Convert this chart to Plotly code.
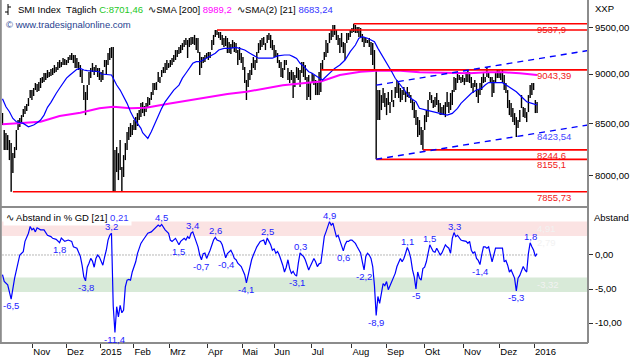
import math
import plotly.graph_objects as go

# ---------------- data ----------------
high = [8603, 8436, 8406, 8387, 8339, 8310, 8214, 8272, 8436, 8534,
        8554, 8583, 8643, 8673, 8693, 8754, 8835, 8835, 8856, 8907,
        8897, 8917, 8959, 8969, 9010, 9010, 9042, 9021, 9052, 9063,
        9094, 9073, 9126, 9147, 9126, 9168, 9158, 9147, 9179, 9200,
        9221, 9200, 9200, 9168, 9126, 9094, 9042, 8886, 8815, 8886,
        9021, 9063, 9115, 9073, 9094, 9063, 9063, 9021, 9042, 9147,
        9147, 9221, 9274, 9285, 9285, 8243, 8272, 8214, 8339, 8083,
        8195, 8310, 8416, 8465, 8504, 8485, 8534, 8563, 8603, 8633,
        8703, 8713, 8673, 8703, 8764, 8754, 8815, 8907, 8907, 8917,
        9021, 8969, 9042, 9073, 9115, 9147, 9115, 9147, 9168, 9200,
        9253, 9253, 9285, 9307, 9328, 9361, 9383, 9361, 9383, 9394,
        9394, 9416, 9383, 9383, 9232, 9179, 9179, 9200, 9221, 9232,
        9232, 9361, 9416, 9470, 9470, 9448, 9448, 9416, 9383, 9405,
        9383, 9339, 9318, 9361, 9339, 9328, 9253, 9285, 9221, 9179,
        9073, 8938, 9010, 9042, 9115, 9179, 9147, 9232, 9328, 9361,
        9383, 9394, 9328, 9416, 9437, 9416, 9361, 9307, 9253, 9221,
        9147, 9126, 9063, 9147, 9147, 9063, 9021, 9042, 9021, 8990,
        9073, 9063, 9042, 9126, 9126, 9094, 8969, 8990, 8917, 9010,
        8990, 8938, 8907, 9021, 9115, 9147, 9232, 9361, 9328, 9437,
        9470, 9525, 9525, 9470, 9416, 9383, 9437, 9339, 9328, 9437,
        9437, 9470, 9492, 9538, 9525, 9503, 9503, 9492, 9426, 9394,
        9383, 9361, 9383, 9339, 9328, 9253, 9043, 8835, 8835, 8784,
        8856, 8805, 8754, 8815, 8713, 8835, 8734, 8866, 8938, 8907,
        8856, 8835, 8866, 8815, 8866, 8815, 8784, 8734, 8713, 8633,
        8563, 8534, 8465, 8436, 8583, 8633, 8734, 8815, 8784, 8734,
        8764, 8805, 8734, 8703, 8663, 8683, 8713, 8815, 8713, 8805,
        8835, 8969, 8959, 9010, 8990, 8969, 8990, 8959, 9021, 9042,
        9021, 8969, 8907, 8938, 8907, 8835, 8907, 8969, 9010, 8969,
        9073, 9021, 8969, 8969, 8938, 9010, 9042, 9042, 9021, 9042,
        8990, 8907, 8835, 8734, 8703, 8653, 8603, 8563, 8534, 8633,
        8784, 8663, 8653, 8613, 8784, 8886, 8907, 8907, 8734, 8713]
low = [8485, 8243, 8243, 8243, 8148, 7856, 8027, 8167, 8243, 8436,
       8465, 8514, 8563, 8593, 8623, 8673, 8754, 8734, 8774, 8835,
       8815, 8825, 8856, 8907, 8917, 8938, 8959, 8969, 8979, 8990,
       9010, 9021, 9042, 9063, 9073, 9094, 9094, 9094, 9115, 9147,
       9147, 9115, 9063, 9063, 9042, 8969, 8907, 8734, 8583, 8734,
       8886, 8959, 9021, 8990, 9021, 8969, 8938, 8917, 8938, 9073,
       8990, 9094, 9147, 9168, 7860, 7860, 8036, 7962, 8055, 7860,
       7990, 8148, 8243, 8339, 8368, 8387, 8436, 8436, 8475, 8534,
       8563, 8603, 8573, 8613, 8663, 8683, 8734, 8784, 8835, 8835,
       8917, 8907, 8969, 9010, 9010, 9042, 9063, 9073, 9094, 9126,
       9147, 9179, 9210, 9221, 9253, 9285, 9307, 9168, 9285, 9307,
       9318, 9307, 9253, 9221, 8990, 9063, 9115, 9126, 9168, 9147,
       9168, 9253, 9307, 9394, 9416, 9383, 9361, 9307, 9285, 9296,
       9221, 9221, 9210, 9274, 9232, 9221, 9094, 9147, 9115, 9042,
       8907, 8734, 8866, 8938, 8990, 9063, 9042, 9115, 9221, 9253,
       9285, 9307, 9253, 9328, 9361, 9274, 9253, 9179, 9179, 9115,
       9063, 8969, 8959, 9042, 9094, 8938, 8907, 8938, 8754, 8866,
       8959, 8938, 8866, 9010, 8969, 8938, 8734, 8764, 8734, 8907,
       8886, 8784, 8784, 8784, 8815, 9042, 9147, 9179, 9221, 9328,
       9361, 9394, 9416, 9361, 9307, 9221, 9285, 9221, 9147, 9328,
       9361, 9394, 9437, 9448, 9437, 9437, 9394, 9383, 9339, 9285,
       9328, 9328, 9285, 9200, 9094, 9042, 8155, 8534, 8534, 8633,
       8703, 8663, 8583, 8683, 8603, 8713, 8663, 8754, 8805, 8754,
       8713, 8734, 8784, 8713, 8764, 8754, 8703, 8633, 8554, 8485,
       8368, 8387, 8291, 8245, 8436, 8514, 8563, 8734, 8703, 8653,
       8663, 8683, 8613, 8583, 8583, 8583, 8563, 8663, 8603, 8633,
       8683, 8815, 8835, 8907, 8938, 8907, 8917, 8886, 8917, 8917,
       8907, 8856, 8805, 8866, 8764, 8703, 8784, 8835, 8907, 8917,
       8969, 8959, 8917, 8764, 8805, 8907, 8959, 8959, 8938, 8907,
       8835, 8805, 8653, 8583, 8563, 8514, 8485, 8368, 8456, 8514,
       8653, 8563, 8554, 8514, 8613, 8754, 8784, 8835, 8603, 8603]

sma21_idx = [0, 2, 4, 6, 8, 12, 15, 18, 20, 22, 24, 26, 28, 29, 31, 33, 35, 37, 39, 41,
             43, 45, 47, 49, 54, 56, 57, 63, 64, 66, 68, 70, 72, 74, 76, 78, 80, 81, 84, 86,
             88, 90, 92, 94, 97, 99, 102, 104, 106, 108, 110, 112, 114, 116, 120, 123, 125, 128, 131, 135,
             137, 140, 143, 146, 148, 156, 159, 163, 166, 168, 170, 172, 174, 177, 179, 182, 185, 186, 189, 192,
             195, 198, 201, 204, 206, 208, 211, 213, 215, 217, 220, 223, 225, 227, 230, 233, 236, 239, 241, 245,
             249, 253, 257, 260, 263, 265, 268, 271, 274, 277, 279, 281, 289, 291, 294, 297, 300, 303, 306, 309]
sma21_val = [8746, 8666, 8616, 8550, 8517, 8501, 8468, 8485, 8507, 8534, 8583, 8660, 8710, 8745, 8800, 8853, 8905, 8957, 8990, 9024,
             9049, 9059, 9042, 9035, 9031, 9024, 9000, 8990, 8956, 8886, 8835, 8767, 8700, 8616, 8550, 8501, 8452, 8410, 8355, 8419,
             8501, 8583, 8650, 8716, 8784, 8835, 8886, 8957, 9008, 9059, 9112, 9129, 9129, 9147, 9183, 9219, 9253, 9271, 9271, 9282,
             9271, 9253, 9219, 9183, 9166, 9166, 9190, 9200, 9200, 9183, 9164, 9112, 9083, 9024, 9008, 8972, 8938, 8956, 9008, 9059,
             9094, 9147, 9236, 9307, 9380, 9398, 9380, 9361, 9343, 9271, 9183, 9094, 9024, 8956, 8886, 8818, 8751, 8717, 8650, 8633,
             8616, 8600, 8583, 8600, 8650, 8700, 8751, 8802, 8835, 8853, 8886, 8911, 8911, 8886, 8853, 8818, 8767, 8716, 8700, 8683]

sma200_idx = [0, 10, 22, 33, 45, 56, 64, 74, 83, 95, 106, 118, 130, 141, 153, 162, 172, 184, 195, 207,
              216, 230, 241, 260, 270, 280, 290, 299, 309]
sma200_val = [8492, 8501, 8517, 8574, 8606, 8650, 8666, 8650, 8656, 8693, 8726, 8760, 8794, 8817, 8851, 8883, 8903, 8922, 8990, 9024,
              9035, 9035, 9018, 9007, 9007, 9018, 9018, 9007, 8989]

osc_idx = [0, 1, 3, 5, 7, 9, 10, 12, 13, 15, 16, 17, 18, 19, 20, 22, 24, 26, 28, 29,
           31, 33, 34, 36, 38, 40, 41, 43, 45, 46, 47, 48, 49, 50, 51, 52, 53, 54, 55, 56,
           57, 58, 59, 60, 61, 62, 63, 64, 65, 66, 67, 68, 69, 70, 71, 72, 73, 74, 75, 76,
           77, 78, 79, 80, 81, 82, 84, 86, 88, 90, 91, 92, 94, 95, 96, 97, 98, 100, 101, 102,
           103, 105, 106, 107, 108, 109, 110, 111, 112, 113, 114, 115, 116, 117, 118, 119, 120, 122, 123, 124,
           126, 127, 128, 129, 130, 131, 132, 133, 134, 135, 136, 138, 139, 140, 141, 142, 143, 144, 145, 146,
           147, 149, 151, 152, 153, 154, 155, 156, 157, 158, 159, 160, 161, 162, 163, 164, 165, 166, 167, 168,
           169, 170, 171, 172, 173, 174, 175, 176, 177, 178, 179, 180, 181, 182, 183, 184, 185, 186, 187, 188,
           189, 190, 191, 192, 193, 194, 195, 196, 197, 198, 199, 200, 201, 202, 203, 204, 205, 206, 207, 208,
           209, 210, 211, 212, 213, 214, 215, 216, 217, 218, 219, 220, 221, 222, 223, 224, 225, 226, 227, 228,
           229, 230, 231, 232, 233, 234, 235, 236, 237, 238, 239, 240, 241, 242, 243, 244, 245, 246, 247, 248,
           249, 250, 251, 252, 253, 254, 255, 256, 257, 258, 259, 260, 261, 262, 263, 264, 265, 266, 268, 269,
           270, 271, 272, 273, 274, 275, 276, 277, 278, 279, 280, 281, 282, 283, 284, 285, 286, 288, 289, 290,
           291, 292, 293, 294, 295, 296, 297, 298, 299, 300, 301, 302, 303, 304, 305, 306, 307, 308, 309]
osc_val = [-2.9, -3.9, -4.4, -6.5, -3.4, -1.0, 0.0, 0.5, 2.0, 3.2, 4.2, 3.7, 3.9, 3.4, 4.0, 3.7, 3.7, 2.9, 2.7, 2.45,
           2.3, 1.8, 2.5, 2.0, 2.2, 2.0, 1.2, 1.0, -0.2, -1.5, -3.2, -3.8, -1.8, -1.2, -0.5, -0.9, -1.8, -0.5, 0.0, -0.3,
           -1.0, -1.5, -0.3, 0.7, 2.2, 2.9, 3.2, -7.5, -11.4, -7.6, -9.1, -7.4, -8.5, -8.1, -4.7, -3.7, -3.6, -3.7, -2.5, -1.7,
           -1.0, 0.2, 1.0, 1.7, 2.1, 2.45, 3.2, 3.4, 3.9, 4.4, 4.2, 4.5, 3.7, 3.4, 3.2, 2.2, 2.0, 2.45, 2.0, 1.5,
           2.0, 2.45, 2.2, 2.7, 2.4, 3.2, 3.4, 2.7, 1.7, 1.2, 0.0, -0.7, 0.2, 0.3, -0.5, 0.0, 0.7, 2.2, 2.6, 2.2,
           2.0, 1.5, 0.7, -0.4, 0.2, 0.5, 0.7, 0.2, -0.5, -0.7, -1.2, -1.7, -2.2, -2.9, -4.1, -2.9, -1.7, -0.7, 0.0, 0.7,
           1.2, 2.0, 2.2, 1.5, 2.5, 2.0, 1.5, 0.7, 0.9, 0.25, 0.5, 0.0, -0.7, -1.5, -2.5, -1.8, -0.7, -2.0, -2.7, -2.4,
           -2.9, -3.1, -1.2, 0.3, 0.0, -0.2, -0.7, -1.5, -2.2, -1.6, -1.0, -0.5, -1.0, -1.7, -1.3, -1.2, 0.7, 2.7, 3.4, 4.2,
           4.9, 4.4, 4.7, 3.7, 2.7, 2.9, 2.0, 1.2, 0.6, 1.5, 2.0, 2.0, 2.2, 2.2, 2.0, 1.7, 1.2, 0.8, 0.3, -1.0,
           -2.2, -0.2, 0.25, 0.0, -0.5, -1.7, -4.5, -8.9, -6.1, -7.1, -5.6, -4.2, -4.5, -3.9, -5.1, -4.5, -3.7, -3.2, -2.7, -1.7,
           -1.0, -0.5, -1.0, -0.5, 0.25, 1.1, 0.5, -0.5, -2.2, -3.2, -5.0, -2.5, -3.4, -3.7, -2.0, -1.8, -1.0, 0.25, 1.5, 1.0,
           0.5, 0.4, 1.0, 0.5, 0.0, 0.3, 1.0, 1.5, 1.2, 1.0, 0.25, 2.45, 3.3, 2.7, 2.9, 2.5, 2.2, 2.1, 2.0, 1.7,
           2.0, 0.7, 0.25, 0.5, -0.5, -0.8, -1.4, 0.0, 1.2, 1.2, 1.0, 1.2, 0.0, -1.0, 0.0, 1.0, 1.0, 1.0, 1.0, -1.0,
           -0.8, -1.5, -2.5, -2.2, -2.9, -3.4, -5.3, -3.4, -3.0, -2.2, -1.7, -2.2, -2.5, 0.25, 1.8, 1.2, 0.7, -0.2, 0.21]

# horizontal support / resistance levels (price, first bar)
levels = [9537.9, 9470.0, 9043.39, 8244.6, 8155.1, 7855.73]
level_start = [203, 124, 184, 243, 216, 6]
level_labels = ["9537,9", "", "9043,39", "8244,6", "8155,1", "7855,73"]

# trend channel (bar, price)
trend_up_x = [216, 339]
trend_up_y = [8885, 9249]
trend_lo_x = [216, 339]
trend_lo_y = [8156, 8487]
trend_lo_label = "8423,54"
trend_lo_value = 8423.54

# oscillator zones
zone_high = [2.79, 4.91]
zone_low = [-5.43, -3.32]
zone_labels = [(4.91, "4,91"), (2.79, "2,79"), (-3.32, "-3,32")]

# peak / trough labels of the oscillator
peak_idx = [5, 33, 48, 63, 65, 92, 102, 110, 115, 123, 129, 141, 153, 170, 172, 189, 197, 209, 216,
            234, 239, 247, 261, 276, 297, 305]
peak_up = [False, False, False, True, False, True, False, True, False, True, False, False, True, False, True,
           True, False, False, False, True, False, True, True, False, False, True]

month_pos = [17.5, 37, 56.5, 76, 96.5, 118.5, 138.5, 157, 178.5, 202, 222, 244, 266.5, 287.5, 307.5]
month_labels = ["Nov", "Dez", "2015", "Feb", "Mrz", "Apr", "Mai", "Jun", "Jul", "Aug", "Sep", "Okt",
                "Nov", "Dez", "2016"]

price_ticks = [8000, 8500, 9000, 9500]
osc_ticks = [-10, -5, 0]

last_close = 8701.46
last_sma200 = 8989.2
last_sma21 = 8683.24
last_osc = 0.21

# ---------------- helpers ----------------
def de(v, nd=2):
    return f"{v:.{nd}f}".replace(".", ",")

def short(v):
    return f"{v:g}".replace(".", ",")

FONT = "Liberation Sans, Arial, sans-serif"
FS = 9.5

fig = go.Figure()

# price bars (high-low)
bx, by = [], []
for i, (h, l) in enumerate(zip(high, low)):
    bx += [i, i, None]
    by += [l, h, None]
fig.add_trace(go.Scatter(x=bx, y=by, mode="lines", line=dict(color="black", width=1.4),
                         hoverinfo="skip", xaxis="x", yaxis="y"))

# SMA200 and SMA21
fig.add_trace(go.Scatter(x=sma200_idx, y=sma200_val, mode="lines",
                         line=dict(color="#ff00ff", width=2), xaxis="x", yaxis="y"))
fig.add_trace(go.Scatter(x=sma21_idx, y=sma21_val, mode="lines",
                         line=dict(color="#0000ff", width=1.2), xaxis="x", yaxis="y"))

# red levels
last_bar = len(high) - 1
for lv, st in zip(levels, level_start):
    fig.add_trace(go.Scatter(x=[st, 340], y=[lv, lv], mode="lines",
                             line=dict(color="#ff0000", width=1.6), xaxis="x", yaxis="y"))

# trend channel
for tx, ty in ((trend_up_x, trend_up_y), (trend_lo_x, trend_lo_y)):
    fig.add_trace(go.Scatter(x=tx, y=ty, mode="lines",
                             line=dict(color="#0000ff", width=1.4, dash="6px,5px"), xaxis="x", yaxis="y"))

# oscillator zero line
fig.add_trace(go.Scatter(x=[0, last_bar], y=[0, 0], mode="lines",
                         line=dict(color="#707070", width=1, dash="1px,2px"), xaxis="x", yaxis="y2"))
# oscillator
fig.add_trace(go.Scatter(x=osc_idx, y=osc_val, mode="lines",
                         line=dict(color="#0000ff", width=1.2), xaxis="x", yaxis="y2"))

shapes = []
shapes.append(dict(type="rect", xref="paper", yref="y2", x0=0, x1=1, y0=zone_high[0], y1=zone_high[1],
                   fillcolor="#fbe3e3", line=dict(width=0), layer="below"))
shapes.append(dict(type="rect", xref="paper", yref="y2", x0=0, x1=1, y0=zone_low[0], y1=zone_low[1],
                   fillcolor="#d8ead8", line=dict(width=0), layer="below"))

H = 343.0
W = 586.0
def px(x):
    return (x - 2) / W
def py(y):
    return (H - y) / H
frame_col = "#8c8c8c"
shapes.append(dict(type="line", xref="paper", yref="paper", x0=1, x1=1, y0=0, y1=1.0,
                   line=dict(color=frame_col, width=2)))
shapes.append(dict(type="line", xref="paper", yref="paper", x0=px(0), x1=1, y0=0, y1=0,
                   line=dict(color=frame_col, width=2)))
shapes.append(dict(type="line", xref="paper", yref="paper", x0=px(0.8), x1=px(0.8), y0=0, y1=1,
                   line=dict(color=frame_col, width=2)))
shapes.append(dict(type="line", xref="paper", yref="paper", x0=px(0), x1=1, y0=py(207), y1=py(207),
                   line=dict(color=frame_col, width=2)))
# bar icon in the title
shapes.append(dict(type="line", xref="paper", yref="paper", x0=px(8), x1=px(8), y0=py(4), y1=py(15),
                   line=dict(color="black", width=1)))
shapes.append(dict(type="line", xref="paper", yref="paper", x0=px(5), x1=px(8), y0=py(12), y1=py(12),
                   line=dict(color="black", width=1)))
shapes.append(dict(type="line", xref="paper", yref="paper", x0=px(8), x1=px(11), y0=py(7), y1=py(7),
                   line=dict(color="black", width=1)))

ann = []
title = ("SMI Index  Täglich <span style='color:#1ec81e'>C:" + de(last_close) + "</span>  "
         "∿SMA [200] <span style='color:#ff00ff'>" + de(last_sma200, 1) + "</span>  "
         "∿SMA(2) [21] <span style='color:#3535ff'>" + de(last_sma21) + "</span>")
ann.append(dict(xref="paper", yref="paper", x=px(16), y=py(9.5), xanchor="left", yanchor="middle",
                text=title, showarrow=False, font=dict(family=FONT, size=FS, color="black")))
ann.append(dict(xref="paper", yref="paper", x=px(4), y=py(24), xanchor="left", yanchor="middle",
                text="© www.tradesignalonline.com", showarrow=False,
                font=dict(family=FONT, size=FS, color="#1f3f8f")))
ann.append(dict(xref="paper", yref="paper", x=px(3), y=py(217.5), xanchor="left", yanchor="middle",
                text="∿ Abstand in % GD [21] <span style='color:#3535ff'>" + de(last_osc) + "</span>",
                showarrow=False, bgcolor="white", borderpad=2,
                font=dict(family=FONT, size=FS, color="black")))
ann.append(dict(xref="paper", yref="paper", x=px(593), y=py(8), xanchor="left", yanchor="middle",
                text="XXP", showarrow=False, font=dict(family=FONT, size=FS, color="black")))
ann.append(dict(xref="paper", yref="paper", x=px(592), y=py(217), xanchor="left", yanchor="middle",
                text="Abstand", showarrow=False, font=dict(family=FONT, size=FS, color="black")))

# level labels (annotations on a log axis take log10 values)
for lv, lab in zip(levels, level_labels):
    if lab:
        ann.append(dict(xref="paper", yref="y", x=px(536), y=math.log10(lv), xanchor="left", yanchor="top",
                        text=lab, showarrow=False, borderpad=0, yshift=1,
                        font=dict(family=FONT, size=FS, color="#f01818")))
ann.append(dict(xref="paper", yref="y", x=px(536), y=math.log10(trend_lo_value), xanchor="left", yanchor="top",
                text=trend_lo_label, showarrow=False, borderpad=0, yshift=1,
                font=dict(family=FONT, size=FS, color="#4646ff")))
for v, lab in zone_labels:
    ann.append(dict(xref="paper", yref="y2", x=px(536), y=v, xanchor="left", yanchor="top",
                    text=lab, showarrow=False, borderpad=0,
                    font=dict(family=FONT, size=FS, color="#f2f2f2")))
for pi, up in zip(peak_idx, peak_up):
    v = osc_val[osc_idx.index(pi)]
    ann.append(dict(xref="x", yref="y2", x=pi, y=v, xanchor="center",
                    yanchor="bottom" if up else "top", text=short(v), showarrow=False, borderpad=0,
                    font=dict(family=FONT, size=FS, color="#1c1cff")))

tickfont = dict(family=FONT, size=FS, color="black")
fig.update_layout(
    width=640, height=360,
    margin=dict(l=2, r=52, t=0, b=17),
    paper_bgcolor="white", plot_bgcolor="white",
    showlegend=False,
    xaxis=dict(range=[-0.29, 338.44], anchor="y2", showgrid=False, zeroline=False, showline=False,
               tickvals=month_pos, ticktext=month_labels, ticks="outside", ticklen=4, tickwidth=1,
               tickcolor="#303030", ticklabelposition="outside right", tickfont=tickfont),
    yaxis=dict(domain=[py(207), 1], type="log", range=[3.88750, 3.99140], side="right",
               showgrid=False, zeroline=False, showline=False,
               tickvals=price_ticks, ticktext=[de(t) for t in price_ticks],
               ticks="outside", ticklen=4, tickcolor="#303030", tickfont=tickfont),
    yaxis2=dict(domain=[0, py(208)], range=[-12.94, 6.91], side="right", anchor="x",
                showgrid=False, zeroline=False, showline=False,
                tickvals=osc_ticks, ticktext=[de(t) for t in osc_ticks],
                ticks="outside", ticklen=4, tickcolor="#303030", tickfont=tickfont),
    shapes=shapes,
    annotations=ann,
)

fig.write_html("out.html", config={"displayModeBar": False},
               post_script="document.body.style.margin='0';document.body.style.overflow='hidden';")
